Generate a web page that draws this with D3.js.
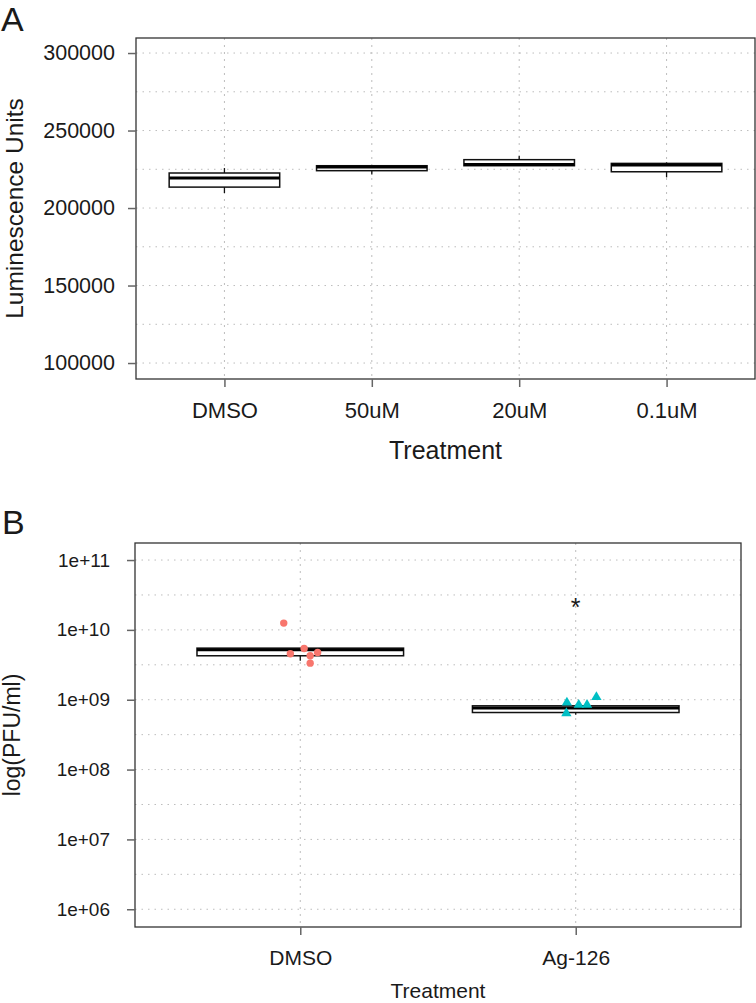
<!DOCTYPE html>
<html>
<head>
<meta charset="utf-8">
<script src="https://cdn.jsdelivr.net/npm/d3@7"></script>
<style>
    body { margin: 0; background: #fff; }
    text { font-family: "Liberation Sans", Arial, Helvetica, sans-serif; fill: #1a1a1a; }
</style>
</head>
<body>
<div id="chart"></div>
<script>
// panel A: luminescence per treatment (box stats)
let treatA = ["DMSO", "50uM", "20uM", "0.1uM"];
let lumLow = [209700, 221700, 227300, 219800];
let lumQ1 = [213500, 224100, 227300, 223400];
let lumMed = [219400, 226500, 228100, 227700];
let lumQ3 = [222600, 227300, 231200, 228800];
let lumHigh = [225800, 227300, 233700, 229500];
let ticksA = [100000, 150000, 200000, 250000, 300000];

// panel B: virus titre, DMSO vs Ag-126
let treatB = ["DMSO", "Ag-126"];
let pfuLow = [3.6e9, 6.08e8];
let pfuQ1 = [4.26e9, 6.56e8];
let pfuMed = [5.19e9, 7.59e8];
let pfuQ3 = [5.48e9, 8.18e8];
let pfuHigh = [5.48e9, 8.18e8];
let dmsoPts = [1.25e10, 4.55e9, 5.42e9, 4.26e9, 4.74e9, 3.34e9];
let dmsoJitter = [-0.060, -0.036, 0.014, 0.036, 0.063, 0.036];
let agPts = [9.1e8, 6.4e8, 8.45e8, 8.45e8, 1.09e9];
let agJitter = [-0.032, -0.034, 0.011, 0.041, 0.075];
let ticksB = [1e6, 1e7, 1e8, 1e9, 1e10, 1e11];
let tickLabelsB = ["1e+06", "1e+07", "1e+08", "1e+09", "1e+10", "1e+11"];
let starValue = 2.55e10;

let svg = d3.select("#chart").append("svg")
    .attr("width", 756)
    .attr("height", 1003);

function gridLines(g, x, y, yTicks, minor, frame) {
    // horizontal major + minor grid
    g.selectAll(".hminor")
        .data(minor)
        .enter().append("line")
        .attr("x1", frame.left).attr("x2", frame.right)
        .attr("y1", d => y(d)).attr("y2", d => y(d))
        .style("stroke", "#bdbdbd")
        .style("stroke-width", 1)
        .style("stroke-dasharray", "1.5,5");
    g.selectAll(".hmajor")
        .data(yTicks)
        .enter().append("line")
        .attr("x1", frame.left).attr("x2", frame.right)
        .attr("y1", d => y(d)).attr("y2", d => y(d))
        .style("stroke", "#bdbdbd")
        .style("stroke-width", 1)
        .style("stroke-dasharray", "1.5,5");
    // vertical grid at categories
    g.selectAll(".vmajor")
        .data(x.domain())
        .enter().append("line")
        .attr("x1", d => x(d)).attr("x2", d => x(d))
        .attr("y1", frame.top).attr("y2", frame.bottom)
        .style("stroke", "#bdbdbd")
        .style("stroke-width", 1)
        .style("stroke-dasharray", "2,5");
}

function drawBoxes(g, x, y, cats, low, q1, med, q3, high) {
    let half = x.step() * 0.375;
    let boxes = g.selectAll(".box")
        .data(cats)
        .enter().append("g")
        .attr("class", "box");

    boxes.append("line")
        .attr("x1", d => x(d)).attr("x2", d => x(d))
        .attr("y1", (d, i) => y(high[i])).attr("y2", (d, i) => y(low[i]))
        .style("stroke", "#111")
        .style("stroke-width", 1.3);

    boxes.append("rect")
        .attr("x", d => x(d) - half)
        .attr("width", half * 2)
        .attr("y", (d, i) => y(q3[i]))
        .attr("height", (d, i) => y(q1[i]) - y(q3[i]))
        .style("fill", "#fff")
        .style("stroke", "#111")
        .style("stroke-width", 1.5);

    boxes.append("line")
        .attr("x1", d => x(d) - half).attr("x2", d => x(d) + half)
        .attr("y1", (d, i) => y(med[i])).attr("y2", (d, i) => y(med[i]))
        .style("stroke", "#000")
        .style("stroke-width", 3);
}

function drawFrame(g, frame) {
    g.append("rect")
        .attr("x", frame.left).attr("y", frame.top)
        .attr("width", frame.right - frame.left)
        .attr("height", frame.bottom - frame.top)
        .style("fill", "none")
        .style("stroke", "#333")
        .style("stroke-width", 1.3);
}

function styleAxis(a, size) {
    a.select(".domain").remove();
    a.selectAll(".tick line").style("stroke", "#666").style("stroke-width", 1.5);
    a.selectAll(".tick text").style("font-size", size + "px").style("fill", "#1a1a1a");
}

///-------------------- panel A ----------------------------------------
function renderPanelA() {
    let frame = {left: 136, right: 755, top: 38, bottom: 379};
    let g = svg.append("g");

    let x = d3.scalePoint()
        .domain(treatA)
        .range([frame.left, frame.right])
        .padding(0.6);
    let y = d3.scaleLinear()
        .domain([89700, 309700])
        .range([frame.bottom, frame.top]);

    let minor = ticksA.slice(1).map((t, i) => (t + ticksA[i]) / 2);
    gridLines(g, x, y, ticksA, minor, frame);
    drawBoxes(g, x, y, treatA, lumLow, lumQ1, lumMed, lumQ3, lumHigh);
    drawFrame(g, frame);

    let yAxis = g.append("g")
        .attr("transform", "translate(" + frame.left + ",0)")
        .call(d3.axisLeft(y).tickValues(ticksA).tickSize(8).tickPadding(13).tickFormat(d3.format("d")));
    styleAxis(yAxis, 21.5);

    let xAxis = g.append("g")
        .attr("transform", "translate(0," + frame.bottom + ")")
        .call(d3.axisBottom(x).tickSize(8).tickPadding(15));
    styleAxis(xAxis, 22);

    g.append("text")
        .attr("transform", "translate(23," + (frame.top + frame.bottom) / 2 + ") rotate(-90)")
        .attr("text-anchor", "middle")
        .style("font-size", "24.5px")
        .text("Luminescence Units");

    g.append("text")
        .attr("x", (frame.left + frame.right) / 2)
        .attr("y", 459)
        .attr("text-anchor", "middle")
        .style("font-size", "25px")
        .text("Treatment");

    svg.append("text")
        .attr("x", 1).attr("y", 31)
        .style("font-size", "34px")
        .text("A");
}

///-------------------- panel B ----------------------------------------
function renderPanelB() {
    let frame = {left: 135, right: 741, top: 543, bottom: 927};
    let g = svg.append("g");

    let x = d3.scalePoint()
        .domain(treatB)
        .range([frame.left, frame.right])
        .padding(0.6);
    let y = d3.scaleLog()
        .domain([Math.pow(10, 5.746), Math.pow(10, 11.244)])
        .range([frame.bottom, frame.top]);

    let minor = ticksB.slice(1).map((t, i) => Math.sqrt(t * ticksB[i]));
    gridLines(g, x, y, ticksB, minor, frame);
    drawBoxes(g, x, y, treatB, pfuLow, pfuQ1, pfuMed, pfuQ3, pfuHigh);

    // jittered points
    g.selectAll(".dmso")
        .data(dmsoPts)
        .enter().append("circle")
        .attr("cx", (d, i) => x("DMSO") + dmsoJitter[i] * x.step())
        .attr("cy", d => y(d))
        .attr("r", 3.7)
        .style("fill", "#F8766D");

    g.selectAll(".ag")
        .data(agPts)
        .enter().append("path")
        .attr("transform", (d, i) => "translate(" + (x("Ag-126") + agJitter[i] * x.step()) + "," + y(d) + ")")
        .attr("d", d3.symbol().type(d3.symbolTriangle).size(46))
        .style("fill", "#00BFC4");

    g.append("text")
        .attr("x", x("Ag-126"))
        .attr("y", y(starValue) + 0.57 * 25)
        .attr("text-anchor", "middle")
        .style("font-size", "25px")
        .text("*");

    drawFrame(g, frame);

    let yAxis = g.append("g")
        .attr("transform", "translate(" + frame.left + ",0)")
        .call(d3.axisLeft(y).tickValues(ticksB).tickSize(8).tickPadding(17)
            .tickFormat((d, i) => tickLabelsB[i]));
    styleAxis(yAxis, 19);

    let xAxis = g.append("g")
        .attr("transform", "translate(0," + frame.bottom + ")")
        .call(d3.axisBottom(x).tickSize(8).tickPadding(15));
    styleAxis(xAxis, 21);

    g.append("text")
        .attr("transform", "translate(20," + (frame.top + frame.bottom) / 2 + ") rotate(-90)")
        .attr("text-anchor", "middle")
        .style("font-size", "23px")
        .text("log(PFU/ml)");

    g.append("text")
        .attr("x", (frame.left + frame.right) / 2)
        .attr("y", 998)
        .attr("text-anchor", "middle")
        .style("font-size", "21px")
        .text("Treatment");

    svg.append("text")
        .attr("x", 2).attr("y", 534)
        .style("font-size", "34px")
        .text("B");
}

renderPanelA();
renderPanelB();
</script>
</body>
</html>
